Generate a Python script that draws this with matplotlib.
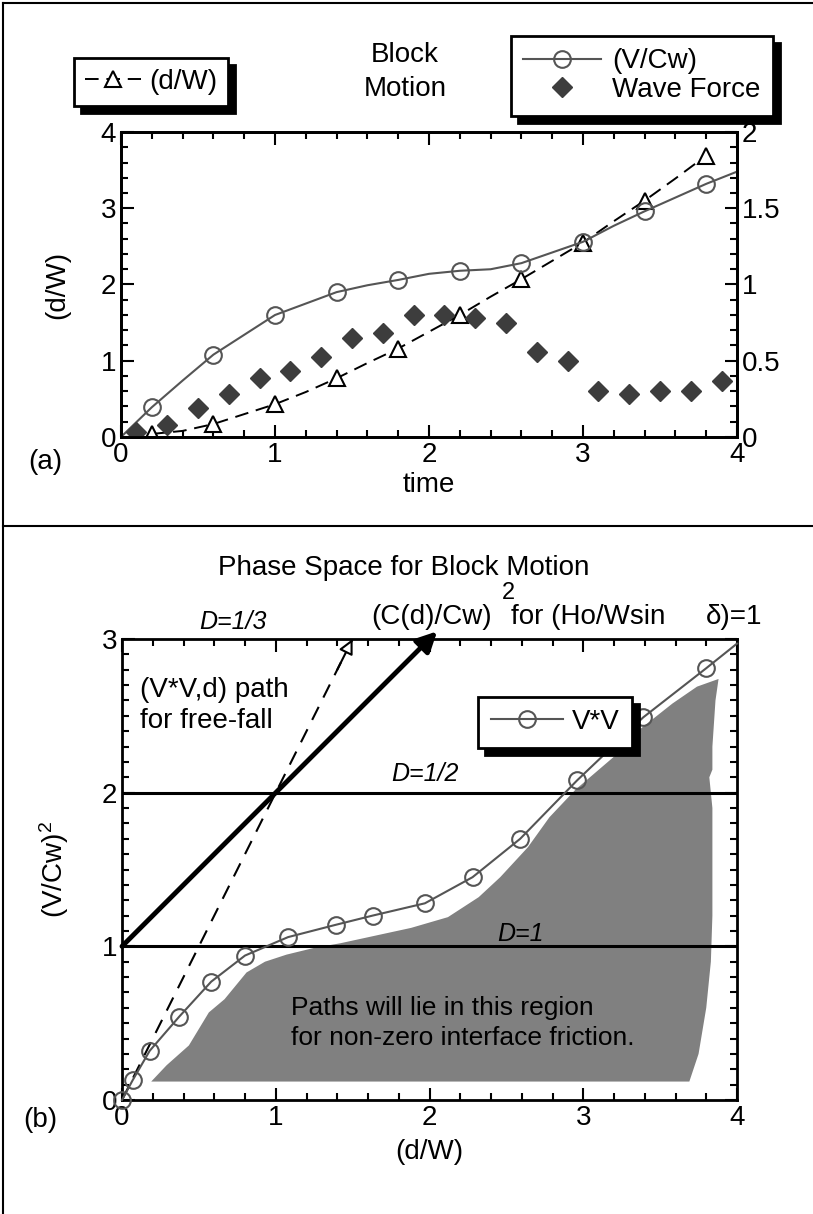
import matplotlib
matplotlib.use("Agg")
import matplotlib.pyplot as plt
from matplotlib.lines import Line2D
from matplotlib.ticker import MultipleLocator, FuncFormatter

plt.rcParams['font.family'] = ['Liberation Sans', 'DejaVu Sans']
plt.rcParams['mathtext.fontset'] = 'custom'
plt.rcParams['mathtext.rm'] = 'Liberation Sans'
plt.rcParams['mathtext.it'] = 'Liberation Sans:italic'

# ---- panel (a) data ----
time_line = [0, 0.2, 0.4, 0.6, 0.8, 1.0, 1.2, 1.4, 1.6, 1.8, 2.0, 2.2, 2.4,
             2.6, 2.8, 3.0, 3.2, 3.4, 3.6, 3.8, 4.0]
vcw = [0, 0.195, 0.37, 0.54, 0.67, 0.80, 0.875, 0.95, 0.995, 1.03, 1.07,
       1.09, 1.10, 1.14, 1.21, 1.28, 1.385, 1.48, 1.57, 1.66, 1.74]

time_dw = [0.2, 0.4, 0.6, 0.8, 1.0, 1.2, 1.4, 1.6, 1.8, 2.0, 2.2, 2.4, 2.6,
           2.8, 3.0, 3.2, 3.4, 3.6, 3.8]
dw = [0.04, 0.08, 0.17, 0.30, 0.43, 0.59, 0.77, 0.97, 1.16, 1.38, 1.60,
      1.84, 2.07, 2.31, 2.55, 2.83, 3.10, 3.39, 3.69]

time_force = [0.1, 0.3, 0.5, 0.7, 0.9, 1.1, 1.3, 1.5, 1.7, 1.9, 2.1, 2.3,
              2.5, 2.7, 2.9, 3.1, 3.3, 3.5, 3.7, 3.9]
wave_force = [0.03, 0.08, 0.19, 0.28, 0.385, 0.43, 0.525, 0.65, 0.68, 0.80,
              0.80, 0.78, 0.75, 0.56, 0.50, 0.30, 0.28, 0.30, 0.30, 0.37]

# ---- panel (b) data ----
vv_d = [0, 0.07, 0.18, 0.37, 0.58, 0.80, 1.08, 1.39, 1.63, 1.97, 2.28, 2.59,
        2.96, 3.39, 3.80, 4.0]
vv = [0, 0.13, 0.32, 0.54, 0.77, 0.94, 1.06, 1.14, 1.20, 1.28, 1.45, 1.70,
      2.08, 2.49, 2.81, 2.97]

shade_x = [0.19, 0.29, 0.435, 0.565, 0.667, 0.81, 0.93, 1.07, 1.25, 1.42,
           1.65, 1.88, 2.12, 2.32, 2.46, 2.64, 2.78, 2.95, 3.23, 3.34, 3.58,
           3.74, 3.88, 3.86, 3.84, 3.84, 3.82, 3.84, 3.84, 3.83, 3.80, 3.75,
           3.69]
shade_y = [0.12, 0.226, 0.355, 0.57, 0.656, 0.83, 0.90, 0.946, 0.99, 1.02,
           1.07, 1.12, 1.19, 1.32, 1.45, 1.645, 1.84, 2.02, 2.26, 2.39, 2.58,
           2.69, 2.74, 2.6, 2.3, 2.15, 2.1, 1.9, 1.2, 0.9, 0.6, 0.3, 0.12]

d_levels = [1, 2]
freefall_x = [0, 2.05]     # (C(d)/Cw)^2 arrow
freefall_y = [1, 3.05]
path_x = [0, 1.5]          # (V*V,d) free-fall path, D=1/3
path_y = [0, 3.0]

W, H = 813, 1214
fig = plt.figure(figsize=(W / 100, H / 100), dpi=100)
FS = 20


def px_axes(left, top, right, bottom):
    return fig.add_axes([left / W, 1 - bottom / H, (right - left) / W, (bottom - top) / H])


def style_axis(ax):
    for s in ax.spines.values():
        s.set_linewidth(2)
    ax.tick_params(which='both', direction='in', width=1.5, labelsize=FS)
    ax.tick_params(which='major', length=9)
    ax.tick_params(which='minor', length=5)


gray = '#555555'
shadow = {'ox': 5, 'oy': -5, 'facecolor': 'black', 'edgecolor': 'black', 'alpha': 1}

# ================= panel (a) =================
ax = px_axes(121, 132, 737, 437)
ax2 = ax.twinx()
ax.set_xlim(0, 4)
ax.set_ylim(0, 4)
ax2.set_ylim(0, 2)

l_dw, = ax.plot(time_dw, dw, color='black', lw=1.4, ls=(0, (7, 4)),
                marker='^', ms=12, mfc='white', mec='black', mew=1.5,
                markevery=slice(0, None, 2))
l_v, = ax2.plot(time_line, vcw, color=gray, lw=1.5, marker='o', ms=12,
                mfc='none', mec=gray, mew=1.5, markevery=slice(1, None, 2))
l_f, = ax2.plot(time_force, wave_force, ls='none', marker='D', ms=10,
                color='#3d3d3d')

ax.set_xticks([0, 1, 2, 3, 4])
ax.xaxis.set_minor_locator(MultipleLocator(0.2))
ax.set_yticks([0, 1, 2, 3, 4])
ax.yaxis.set_minor_locator(MultipleLocator(0.2))
ax2.set_yticks([0, 0.5, 1, 1.5, 2])
ax2.yaxis.set_minor_locator(MultipleLocator(0.1))
ax2.yaxis.set_major_formatter(FuncFormatter(lambda v, p: f'{v:g}'))
style_axis(ax)
style_axis(ax2)
ax.tick_params(which='both', top=True)
ax.set_xlabel('time', fontsize=FS, labelpad=3)
ax.set_ylabel('(d/W)', fontsize=FS, labelpad=22)
fig.text(45 / W, 1 - 462 / H, '(a)', fontsize=FS, ha='center', va='center')

leg1 = fig.legend([l_dw], ['(d/W)'], loc='upper left',
                  bbox_to_anchor=(60 / W, 1 - 44 / H), fontsize=FS,
                  handlelength=2.0, handletextpad=0.3, borderpad=0.4,
                  fancybox=False, edgecolor='black', framealpha=1,
                  shadow=shadow)
leg1.get_frame().set_linewidth(2)
leg2 = fig.legend([l_v, l_f], ['(V/Cw)', 'Wave Force'], loc='upper left',
                  bbox_to_anchor=(497 / W, 1 - 22 / H), fontsize=FS,
                  handlelength=2.8, handletextpad=0.4, borderpad=0.45,
                  labelspacing=0.1, fancybox=False, edgecolor='black',
                  framealpha=1, shadow=shadow)
leg2.get_frame().set_linewidth(2)
fig.text(405 / W, 1 - 72 / H, 'Block\nMotion', fontsize=FS, ha='center',
         va='center', linespacing=1.45)

# ================= panel (b) =================
bx = px_axes(122, 639, 737, 1100)
bx.set_xlim(0, 4)
bx.set_ylim(0, 3)
bx.fill(shade_x, shade_y, color='#808080', lw=0, zorder=1)
for lev in d_levels:
    bx.axhline(lev, color='black', lw=2.2, zorder=2)
bx.plot(path_x, path_y, color='black', lw=1.5, ls=(0, (7, 5)), zorder=3)
bx.annotate('', xy=(path_x[1], path_y[1]), xytext=(1.40, 2.8),
            arrowprops=dict(arrowstyle='-|>', lw=1.5, fc='white', ec='black',
                            mutation_scale=22, shrinkA=0, shrinkB=0),
            annotation_clip=False, zorder=4)
bx.annotate('', xy=(freefall_x[1], freefall_y[1]),
            xytext=(freefall_x[0], freefall_y[0]),
            arrowprops=dict(arrowstyle='-|>', lw=3.5, color='black',
                            mutation_scale=30, shrinkA=0, shrinkB=0),
            annotation_clip=False, zorder=4)
l_vv, = bx.plot(vv_d, vv, color=gray, lw=1.5, marker='o', ms=12, mfc='none',
                mec=gray, mew=1.5, markevery=slice(0, len(vv_d) - 1), zorder=5,
                clip_on=False)

bx.set_xticks([0, 1, 2, 3, 4])
bx.xaxis.set_minor_locator(MultipleLocator(0.2))
bx.set_yticks([0, 1, 2, 3])
bx.yaxis.set_minor_locator(MultipleLocator(0.1))
style_axis(bx)
bx.tick_params(which='both', top=True, right=True)
bx.set_xlabel('(d/W)', fontsize=FS, labelpad=6)
bx.set_ylabel('(V/Cw)$^2$', fontsize=FS, labelpad=22)

leg3 = bx.legend([l_vv], ['V*V'], loc='upper left',
                 bbox_to_anchor=(0.557, 0.905), fontsize=FS,
                 handlelength=2.6, handletextpad=0.3, borderpad=0.45,
                 fancybox=False, edgecolor='black', framealpha=1,
                 shadow=shadow)
leg3.get_frame().set_linewidth(2)

bx.text(1.83, 3.46, 'Phase Space for Block Motion', fontsize=FS,
        ha='center', va='center')
bx.text(0.72, 3.11, 'D=1/3', fontsize=18, style='italic', ha='center',
        va='center')
bx.text(1.62, 3.14, '(C(d)/Cw)', fontsize=FS, ha='left', va='center')
bx.text(2.47, 3.23, '2', fontsize=17, ha='left', va='bottom')
bx.text(2.53, 3.14, 'for (Ho/Wsin', fontsize=FS, ha='left', va='center')
bx.text(3.80, 3.14, 'δ)=1', fontsize=FS, ha='left', va='center')
bx.text(0.12, 2.57, '(V*V,d) path\nfor free-fall', fontsize=FS, ha='left',
        va='center', linespacing=1.25)
bx.text(1.97, 2.12, 'D=1/2', fontsize=18, style='italic', ha='center',
        va='center')
bx.text(2.59, 1.08, 'D=1', fontsize=18, style='italic', ha='center',
        va='center')
bx.text(1.10, 0.5, 'Paths will lie in this region\nfor non-zero interface friction.',
        fontsize=19, ha='left', va='center', linespacing=1.3, zorder=6)
fig.text(40 / W, 1 - 1120 / H, '(b)', fontsize=FS, ha='center', va='center')

# frame lines
for xs, ys in [([3, 3], [3, H]), ([3, W], [3, 3]), ([3, W], [526, 526])]:
    fig.add_artist(Line2D([x / W for x in xs], [1 - y / H for y in ys],
                          color='black', lw=1.5))

fig.savefig('out.png', dpi=100)
